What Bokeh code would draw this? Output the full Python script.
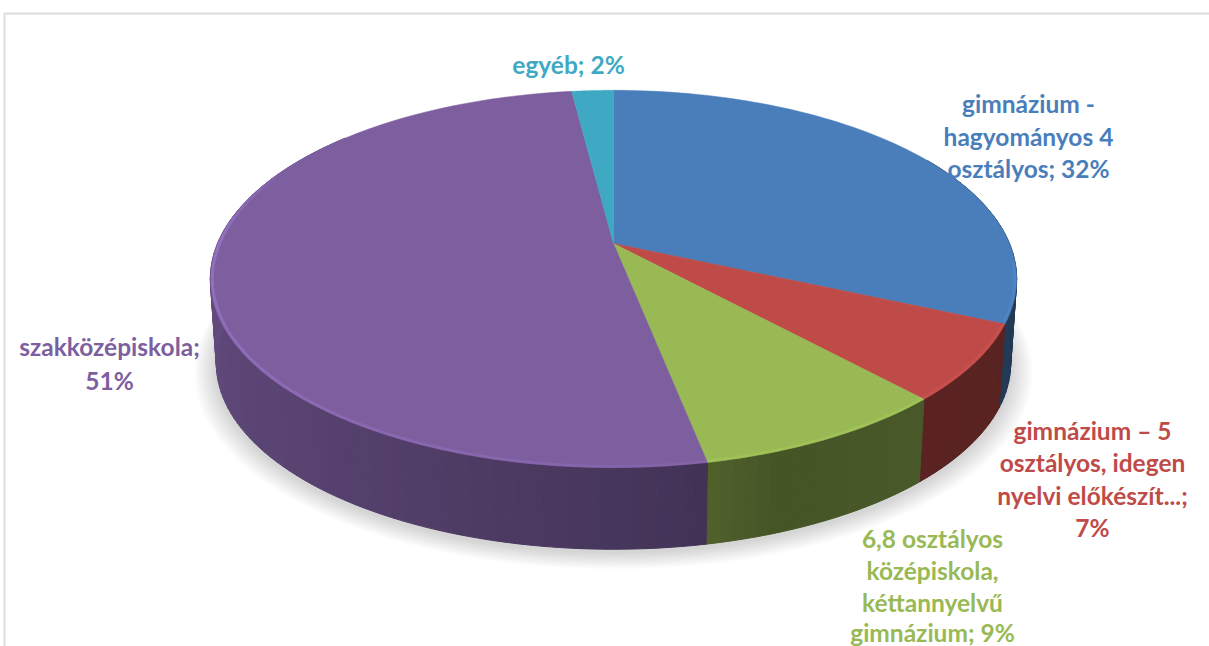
import numpy as np
from bokeh.plotting import figure
from bokeh.models import Range1d, ColumnDataSource
from bokeh.core.properties import value
from bokeh.embed import file_html
from bokeh.resources import INLINE

categories = ["gimnázium - hagyományos 4 osztályos", "gimnázium – 5 osztályos, idegen nyelvi előkészít...",
              "6,8 osztályos középiskola, kéttannyelvű gimnázium", "szakközépiskola", "egyéb"]
values = [31.7, 6.5, 8.7, 51.1, 2.0]
colors = ["#4a7ebb", "#be4b48", "#98b954", "#7d5fa0", "#3fa9c4"]
label_lines = [["gimnázium -", "hagyományos 4", "osztályos; 32%"],
               ["gimnázium – 5", "osztályos, idegen", "nyelvi előkészít...;", "7%"],
               ["6,8 osztályos", "középiskola,", "kéttannyelvű", "gimnázium; 9%"],
               ["szakközépiskola;", "51%"],
               ["egyéb; 2%"]]
label_x = [1028, 1092, 932, 109, 568]
label_y = [[103, 136, 168], [430, 462, 495, 527], [538, 570, 602, 632], [346, 380], [64]]

# page-pixel scene: perspective view of a tilted disc
AX, AY, RX, RY, K = 613.0, 243.0, 396.0, 182.0, 0.188
DEPTH, SHRINK = 85.0, 0.985

def top(t):
    u, v = np.sin(t), -np.cos(t)
    d = 1 - K * v
    return AX + RX * u / d, AY + RY * v / d

def bottom(t):
    x, y = top(t)
    return AX + SHRINK * (x - AX), AY + DEPTH + SHRINK * (y - AY)

def rgb(c, f):
    r, g, b = int(c[1:3], 16), int(c[3:5], 16), int(c[5:7], 16)
    return "#%02x%02x%02x" % (min(255, int(r * f)), min(255, int(g * f)), min(255, int(b * f)))

p = figure(width=1209, height=646, x_range=Range1d(0, 1209), y_range=Range1d(646, 0),
           output_backend="svg", toolbar_location=None, min_border=0)
p.axis.visible = False
p.grid.visible = False
p.outline_line_color = None

# chart frame
p.line([4, 4, 1209], [646, 13, 13], line_color="#dcdcdc", line_width=2)

edges = np.cumsum([0] + values) / sum(values) * 2 * np.pi

# soft shadow
ring = np.linspace(0, 2 * np.pi, 181)
bx, by = bottom(ring)
for i in range(14):
    g = 1 + 0.004 * (14 - i)
    p.patch(AX + (bx - AX) * g, AY + 3 + (by - AY) * g, fill_color="#000000", fill_alpha=0.011, line_color=None)

# side walls
qx, qy, qc = [], [], []
for a0, a1, c in zip(edges[:-1], edges[1:], colors):
    n = max(2, int((a1 - a0) / np.radians(1.5)))
    ts = np.linspace(a0, a1, n + 1)
    for t0, t1 in zip(ts[:-1], ts[1:]):
        mid = np.degrees((t0 + t1) / 2)
        if mid < 60 or mid > 310:
            continue
        f = np.interp(mid, [90, 140, 160, 172, 220, 270, 300], [0.45, 0.48, 0.46, 0.55, 0.7, 0.8, 0.85])
        x0, y0 = top(t0); x1, y1 = top(t1)
        x2, y2 = bottom(t1); x3, y3 = bottom(t0)
        qx.append([x0, x1, x2, x3]); qy.append([y0, y1, y2, y3]); qc.append(rgb(c, f))
p.patches("x", "y", source=ColumnDataSource(dict(x=qx, y=qy, c=qc)), fill_color="c", line_color="c", line_width=1)

# top face
for a0, a1, c in zip(edges[:-1], edges[1:], colors):
    ts = np.linspace(a0, a1, 80)
    x, y = top(ts)
    p.patch(np.r_[AX, x], np.r_[AY, y], fill_color=c, line_color=c, line_width=0.5)

# bevel highlight on the front rim
hx, hy, hc, ha = [], [], [], []
for a0, a1, c in zip(edges[:-1], edges[1:], colors):
    ts = np.arange(a0, a1, np.radians(2))
    for t0 in ts:
        deg = np.degrees(t0)
        if deg < 95 or deg > 292:
            continue
        t1 = min(t0 + np.radians(2), a1)
        x, y = top(np.array([t0, t1]))
        hx.append(list(AX + (x - AX) * 0.995)); hy.append(list(AY + (y - AY) * 0.995))
        hc.append(rgb(c, 1.22)); ha.append(float(np.interp(deg, [95, 170, 230, 270, 292], [0.25, 0.25, 0.6, 0.9, 0.2])))
p.multi_line("x", "y", source=ColumnDataSource(dict(x=hx, y=hy, c=hc, a=ha)), line_color="c", line_alpha="a", line_width=3)

# data labels
for lines, cx, ys, c in zip(label_lines, label_x, label_y, colors):
    p.text(x=[cx] * len(lines), y=ys, text=lines, text_color=c, text_font=value("Lato"),
           text_font_style="bold", text_font_size="24.5px", text_align="center", text_baseline="middle")

open("out.html", "w").write(file_html(p, INLINE))
